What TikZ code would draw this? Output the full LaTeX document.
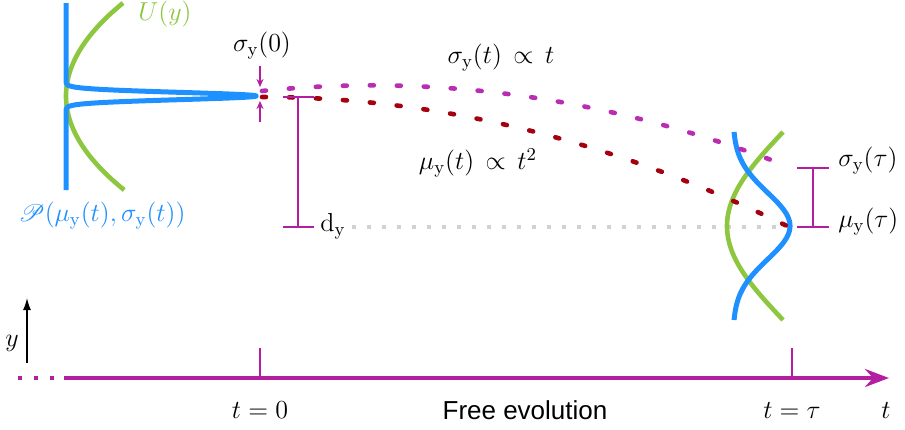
\RequirePackage{fix-cm}
\documentclass[tikz,border=0pt]{standalone}
\usepackage{amsmath,amssymb,mathrsfs}
\usepackage{fontspec}
\newfontfamily\evofont{Liberation Sans}
\usetikzlibrary{arrows.meta,calc,positioning}
\definecolor{axismag}{HTML}{B41EA0}
\definecolor{sigmamag}{HTML}{BA2DB2}
\definecolor{meanred}{HTML}{A50010}
\definecolor{probblue}{HTML}{1E90FF}
\definecolor{potgreen}{HTML}{8DC63F}
\definecolor{refgray}{HTML}{D2D2D2}
\tikzset{
  lbl/.style={font=\fontsize{13}{15}\selectfont,inner sep=1pt},
  probcurve/.style={probblue,line width=2.5pt},
  potcurve/.style={potgreen,line width=2.3pt},
  sigmatrace/.style={sigmamag,line width=2.3pt,line cap=round,dash pattern=on 2pt off 11.5pt},
  meantrace/.style={meanred,line width=2.3pt,line cap=round,dash pattern=on 2pt off 11.5pt},
  refline/.style={refgray,line width=2pt,dash pattern=on 2pt off 5.5pt},
  barline/.style={axismag,line width=0.75pt},
  tickline/.style={axismag,line width=0.7pt},
  timeaxis/.style={axismag,line width=2.3pt},
  dotaxis/.style={axismag,line width=2.3pt,dash pattern=on 2pt off 6pt},
  smallarrow/.style={-{Stealth[length=4pt,width=3.5pt]},axismag,line width=0.6pt}
}

\begin{document}
\begin{tikzpicture}[x=0.5pt,y=-0.5pt]
\useasboundingbox (0,0) rectangle (905,429);
\coordinate (sig0top) at (260,87);
\coordinate (sig0bot) at (260,101);
\coordinate (dytop) at (298,97);
\coordinate (dybot) at (298,227);
\coordinate (sigtaubar) at (813,168);
\coordinate (mutaubar) at (813,227);
\coordinate (mutaupt) at (787,227);
\coordinate (axdots) at (18,378);
\coordinate (axstart) at (64,378);
\coordinate (axend) at (889,378);
\coordinate (ybase) at (27,363);
\coordinate (ytip) at (27,298);
\draw[potcurve] plot[domain=3:190,samples=80] ({66+57*((\x-96)/93)^2},\x);
\draw[probcurve] (66,3) -- plot[domain=81:111,samples=301] ({66+190*exp(-((\x-96)/3.6)^2/2)},\x) -- (66,190);
\node[lbl,potgreen] (ulabel) at (165,14) {$U(y)$};
\node[lbl,probblue] (plabel) at (102,216) {$\mathscr{P}(\mu_\mathrm{y}(t),\sigma_\mathrm{y}(t))$};
\node[lbl] (sig0) at (262,46) {$\sigma_\mathrm{y}(0)$};
\node[lbl] (sigt) at (501,58) {$\sigma_\mathrm{y}(t)\,\propto\,t$};
\node[lbl] (mut) at (478,163) {$\mu_\mathrm{y}(t)\,\propto\,t^2$};
\node[lbl,anchor=west] (dy) at (318,226) {$\mathrm{d}_\mathrm{y}$};
\node[lbl,anchor=west] (sigtau) at (836,161) {$\sigma_\mathrm{y}(\tau)$};
\node[lbl,anchor=west] (mutau) at (836,222) {$\mu_\mathrm{y}(\tau)$};
\draw[refline] ([xshift=2pt]dy.east |- dybot) -- (mutaupt);
\draw[potcurve] plot[domain=132:320,samples=80] ({783-56*cos((\x-226)/188*180)},\x);
\draw[probcurve] plot[domain=132:320,samples=120] ({733+57*exp(-((\x-226)/33.4)^2/2)},\x);
\draw[sigmatrace] plot[domain=0:1,samples=80] ({262+525*\x},{91+129*\x*\x-54*\x});
\draw[meantrace] plot[domain=0:1,samples=80] ({262+525*\x},{97+129*\x*\x});
\draw[smallarrow] ($(sig0top)+(0,-21)$) -- (sig0top);
\draw[smallarrow] ($(sig0bot)+(0,21)$) -- (sig0bot);
\draw[barline] (dytop) -- (dybot);
\draw[barline] (dytop) +(-15,0) -- +(16,0);
\draw[barline] (dybot) +(-15,0) -- +(16,0);
\draw[barline] (sigtaubar) -- (mutaubar);
\draw[barline] (sigtaubar) +(-16,0) -- +(16,0);
\draw[barline] (mutaubar) +(-16,0) -- +(16,0);
\draw[dotaxis] (axdots) -- (axstart);
\draw[timeaxis,-{Stealth[length=12pt,width=9pt,inset=4pt]}] (axstart) -- (axend);
\node[lbl] (tzero) at (260,410) {$t=0$};
\node[lbl] (ttau) at (792,410) {$t=\tau$};
\node[lbl] (freeevo) at (525,410) {\evofont Free evolution};
\node[lbl] (tlab) at (886,410) {$t$};
\foreach \tk in {tzero,ttau}{\draw[tickline] (\tk |- axstart) -- ++(0,-30);}
\draw[-{Latex[length=6pt,width=4pt]},line width=0.7pt] (ybase) -- (ytip);
\node[lbl] (ylab) at (12,343) {$y$};
\end{tikzpicture}
\end{document}
